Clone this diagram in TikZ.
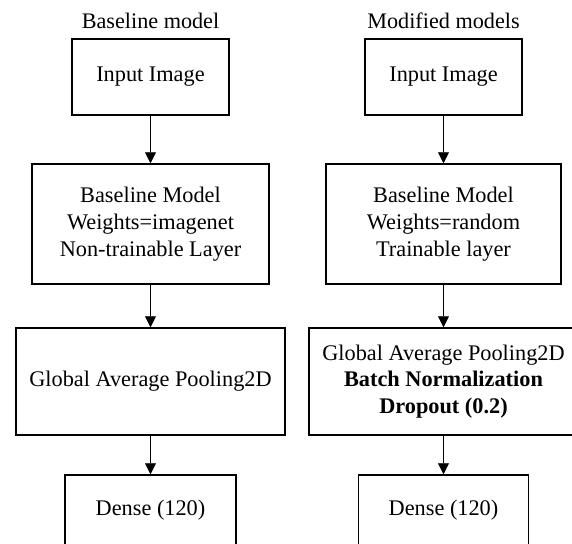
\documentclass[tikz,border=0pt]{standalone}
\usepackage{fontspec}
\setmainfont{Liberation Serif}
\usetikzlibrary{arrows.meta}
\begin{document}
\begin{tikzpicture}[x=1pt,y=-1pt,
  blk/.style={draw=black, line width=1.5pt, fill=white, inner sep=0pt,
    align=center, font=\fontsize{22.3}{26.8}\selectfont},
  ttl/.style={inner sep=0pt, font=\fontsize{22.2}{26.8}\selectfont},
  flow/.style={draw=black, line width=0.9pt, -{Triangle[length=11pt,width=11pt]}}]
  \useasboundingbox (0,0) rectangle (572,543);
  \clip (0,0) rectangle (572,543);
  \fill[white] (0,0) rectangle (572,543);

  % left column: baseline model
  \node[ttl] (t1) at (150.5,21) {Baseline model};
  \node[blk, minimum width=157pt, minimum height=76pt] (l1) at (150.5,77) {Input Image};
  \node[blk, minimum width=237pt, minimum height=120pt] (l2) at (150.5,224)
    {Baseline Model\\Weights=imagenet\\Non-trainable Layer};
  \node[blk, minimum width=269pt, minimum height=107pt] (l3) at (150.5,381.5)
    {Global Average Pooling2D};
  \node[blk, minimum width=171pt, minimum height=70pt] (l4) at (150.5,510) {Dense (120)};

  % right column: modified models
  \node[ttl] (t2) at (443.5,21) {Modified models};
  \node[blk, minimum width=157pt, minimum height=76pt] (r1) at (443.5,77) {Input Image};
  \node[blk, minimum width=235pt, minimum height=120pt] (r2) at (443.5,224)
    {Baseline Model\\Weights=random\\Trainable layer};
  \node[blk, minimum width=269pt, minimum height=107pt] (r3) at (443.5,381.5)
    {Global Average Pooling2D\\\textbf{Batch Normalization}\\\textbf{Dropout (0.2)}};
  \node[blk, minimum width=170pt, minimum height=70pt] (r4) at (443.5,510) {Dense (120)};

  \draw[flow] (l1) -- (l2);
  \draw[flow] (l2) -- (l3);
  \draw[flow] (l3) -- (l4);
  \draw[flow] (r1) -- (r2);
  \draw[flow] (r2) -- (r3);
  \draw[flow] (r3) -- (r4);
\end{tikzpicture}
\end{document}
